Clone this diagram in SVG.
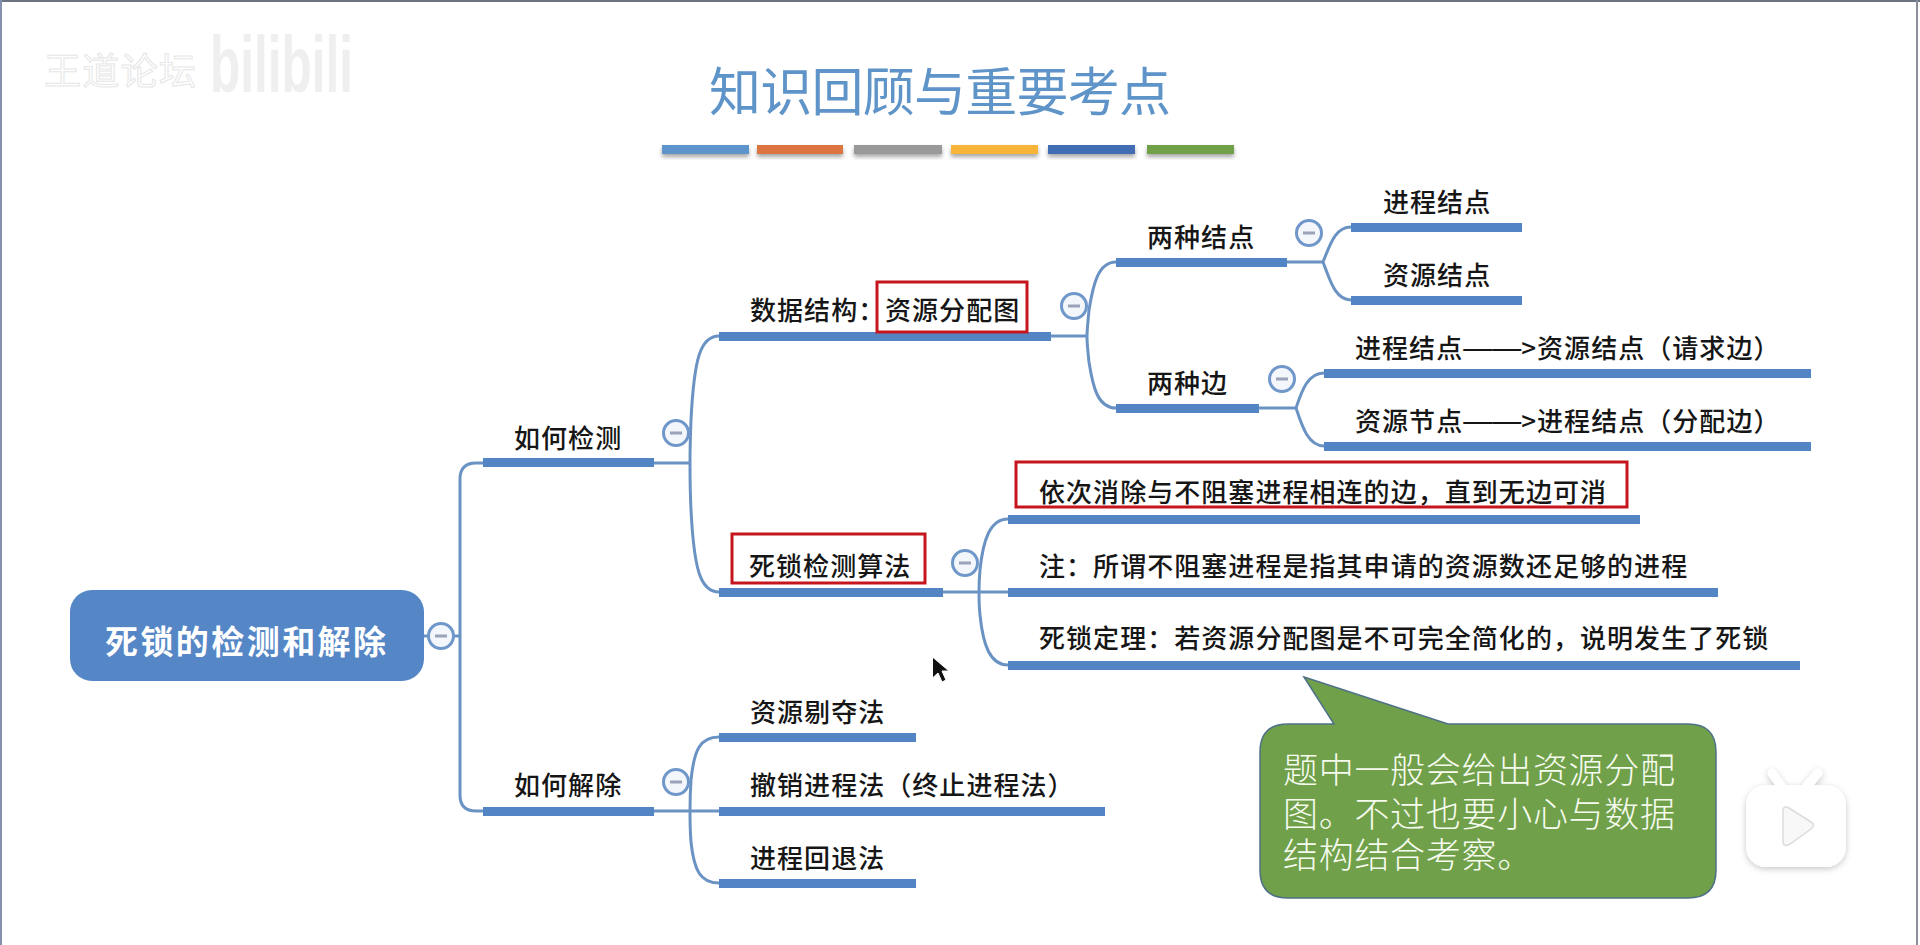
<svg xmlns="http://www.w3.org/2000/svg" width="1920" height="945" viewBox="0 0 1920 945">
<style>
text{font-family:"Noto Sans CJK SC","Noto Sans",sans-serif}
.t{font-size:26px;fill:#161616;letter-spacing:1.05px;font-weight:500}
.d{font-family:"Liberation Sans",sans-serif;font-size:29px;letter-spacing:0;font-weight:400}
.bar{fill:#5384c4}
.c{fill:none;stroke:#6a93c4;stroke-width:3}
.box{fill:none;stroke:#c5161d;stroke-width:3}
.tg{fill:#f3f6fb;stroke:#6f97c9;stroke-width:3}
.tm{stroke:#9aa3b8;stroke-width:3}
.call{font-size:35px;font-weight:300;fill:#f6fbef;letter-spacing:.7px}
</style>
<defs>
<filter id="sh" x="-10%" y="-30%" width="120%" height="190%"><feDropShadow dx="0" dy="3" stdDeviation="2" flood-color="#000" flood-opacity=".35"/></filter>
<filter id="sh2" x="-15%" y="-15%" width="130%" height="130%"><feDropShadow dx="0" dy="2" stdDeviation="3" flood-color="#000" flood-opacity=".22"/></filter>
</defs>
<rect width="1920" height="945" fill="#fff"/>
<g id="frame">
<rect x="0" y="0" width="1920" height="2" fill="#6b7280"/>
<rect x="0" y="0" width="2" height="945" fill="#8490ac"/>
<rect x="1916" y="0" width="2" height="945" fill="#8a8f99"/>
</g>
<g id="watermark">
<text x="44" y="85" font-size="37" fill="#fff" stroke="#e6e6e6" stroke-width="1" textLength="152">王道论坛</text>
<text x="210" y="92" font-size="80" font-weight="700" fill="#efefef" textLength="143" lengthAdjust="spacingAndGlyphs" style="font-family:'Liberation Sans',sans-serif">bilibili</text>
</g>
<g id="title">
<text x="709" y="111" font-size="52" font-weight="400" fill="#5f94c8" textLength="462" lengthAdjust="spacing">知识回顾与重要考点</text>
</g>
<g id="title-bars" filter="url(#sh)">
<rect x="662" y="145" width="87" height="9" fill="#5b94cb"/>
<rect x="757" y="145" width="86" height="9" fill="#dd7440"/>
<rect x="854" y="145" width="88" height="9" fill="#999"/>
<rect x="951" y="145" width="87" height="9" fill="#f7b437"/>
<rect x="1048" y="145" width="87" height="9" fill="#3f6db3"/>
<rect x="1147" y="145" width="87" height="9" fill="#70a047"/>
</g>
<g id="connectors">
<path class="c" d="M424 636H460M483 463H476Q460 463 460 479V795Q460 811 476 811H483"/>
<path class="c" d="M654 463H690M719 336C700 336 694 360 691 420C690 445 690 455 690 463C690 475 690 490 691 510C694 568 700 592 719 592"/>
<path class="c" d="M654 811H719M719 737C700 737 694 750 691 780C690 795 690 805 690 811C690 820 690 830 691 842C694 870 700 883 719 883"/>
<path class="c" d="M1051 336H1087M1116 262C1098 262 1093 285 1089 310C1088 322 1087 330 1087 336C1087 345 1088 352 1089 362C1093 388 1098 408 1116 408"/>
<path class="c" d="M1287 262H1323M1351 227C1335 227 1330 245 1323 262C1330 280 1335 300 1351 300"/>
<path class="c" d="M1259 408H1296M1324 373C1308 373 1302 390 1296 408C1302 426 1308 446 1324 446"/>
<path class="c" d="M943 592H1008M1008 519C990 519 983 540 980 570C979 580 979 587 979 592C979 600 979 606 980 615C983 645 990 665 1008 665"/>
</g>
<g id="root">
<rect x="70" y="590" width="354" height="91" rx="22" fill="#5586c6"/>
<text x="105" y="654" font-size="33" font-weight="700" fill="#fff" textLength="281">死锁的检测和解除</text>
<circle class="tg" cx="441" cy="636" r="12.5"/><path class="tm" d="M435 636H447"/>
</g>
<g id="detect">
<rect class="bar" x="483" y="458" width="171" height="9"/>
<text class="t" x="514" y="448">如何检测</text>
<circle class="tg" cx="676" cy="433" r="12.5"/><path class="tm" d="M670 433H682"/>
</g>
<g id="resolve">
<rect class="bar" x="483" y="807" width="171" height="9"/>
<text class="t" x="514" y="795">如何解除</text>
<circle class="tg" cx="676" cy="782" r="12.5"/><path class="tm" d="M670 782H682"/>
</g>
<g id="data-structure">
<rect class="bar" x="719" y="332" width="332" height="9"/>
<text class="t" x="750" y="320">数据结构：</text>
<text class="t" x="885" y="320">资源分配图</text>
<rect class="box" x="877" y="282" width="150" height="50"/>
<circle class="tg" cx="1074" cy="306" r="12.5"/><path class="tm" d="M1068 306H1080"/>
</g>
<g id="two-nodes">
<rect class="bar" x="1116" y="258" width="171" height="9"/>
<text class="t" x="1147" y="247">两种结点</text>
<circle class="tg" cx="1309" cy="233" r="12.5"/><path class="tm" d="M1303 233H1315"/>
</g>
<g id="two-edges">
<rect class="bar" x="1116" y="404" width="143" height="9"/>
<text class="t" x="1147" y="393">两种边</text>
<circle class="tg" cx="1282" cy="379" r="12.5"/><path class="tm" d="M1276 379H1288"/>
</g>
<g id="process-node">
<rect class="bar" x="1351" y="223" width="171" height="9"/>
<text class="t" x="1383" y="212">进程结点</text>
</g>
<g id="resource-node">
<rect class="bar" x="1351" y="296" width="171" height="9"/>
<text class="t" x="1383" y="285">资源结点</text>
</g>
<g id="request-edge">
<rect class="bar" x="1324" y="369" width="487" height="9"/>
<text class="t" x="1355" y="358">进程结点<tspan class="d">——</tspan>&gt;资源结点（请求边）</text>
</g>
<g id="assign-edge">
<rect class="bar" x="1324" y="442" width="487" height="9"/>
<text class="t" x="1355" y="431">资源节点<tspan class="d">——</tspan>&gt;进程结点（分配边）</text>
</g>
<g id="algorithm">
<rect class="bar" x="719" y="588" width="224" height="9"/>
<text class="t" x="749" y="576">死锁检测算法</text>
<rect class="box" x="732" y="534" width="193" height="49"/>
<circle class="tg" cx="965" cy="563" r="12.5"/><path class="tm" d="M959 563H971"/>
</g>
<g id="step">
<rect class="bar" x="1008" y="515" width="632" height="9"/>
<text class="t" x="1039" y="502">依次消除与不阻塞进程相连的边，直到无边可消</text>
<rect class="box" x="1016" y="462" width="611" height="45"/>
</g>
<g id="note">
<rect class="bar" x="1008" y="588" width="710" height="9"/>
<text class="t" x="1039" y="576">注：所谓不阻塞进程是指其申请的资源数还足够的进程</text>
</g>
<g id="theorem">
<rect class="bar" x="1008" y="661" width="792" height="9"/>
<text class="t" x="1039" y="648">死锁定理：若资源分配图是不可完全简化的，说明发生了死锁</text>
</g>
<g id="preempt">
<rect class="bar" x="719" y="733" width="197" height="9"/>
<text class="t" x="750" y="722">资源剔夺法</text>
</g>
<g id="kill">
<rect class="bar" x="719" y="807" width="386" height="9"/>
<text class="t" x="750" y="795">撤销进程法（终止进程法）</text>
</g>
<g id="rollback">
<rect class="bar" x="719" y="879" width="197" height="9"/>
<text class="t" x="750" y="868">进程回退法</text>
</g>
<g id="callout">
<path d="M1304 677L1448 724H1688Q1716 724 1716 752V870Q1716 898 1688 898H1288Q1260 898 1260 870V752Q1260 724 1288 724H1334Z" fill="#70a04a" stroke="#4f7187" stroke-width="1.5"/>
<text class="call" x="1283" y="783">题中一般会给出资源分配</text>
<text class="call" x="1283" y="827">图。不过也要小心与数据</text>
<text class="call" x="1283" y="868">结构结合考察。</text>
</g>
<g id="player-icon" filter="url(#sh2)">
<path d="M1772 773L1782 787M1818 773L1806 787" fill="none" stroke="#fff" stroke-width="9" stroke-linecap="round"/>
<rect x="1746" y="785" width="100" height="82" rx="20" fill="#fff"/>
<path d="M1783 811Q1783 805 1789 808L1811 822Q1816 825 1811 829L1790 844Q1783 848 1783 841Z" fill="#f8f8f8" stroke="#dcdcdc" stroke-width="1.5"/>
</g>
<g id="cursor">
<path d="M932.5 657V678L938 673L942 682L946 680L942 671H949Z" fill="#111" stroke="#fff" stroke-width="1"/>
</g>
</svg>
